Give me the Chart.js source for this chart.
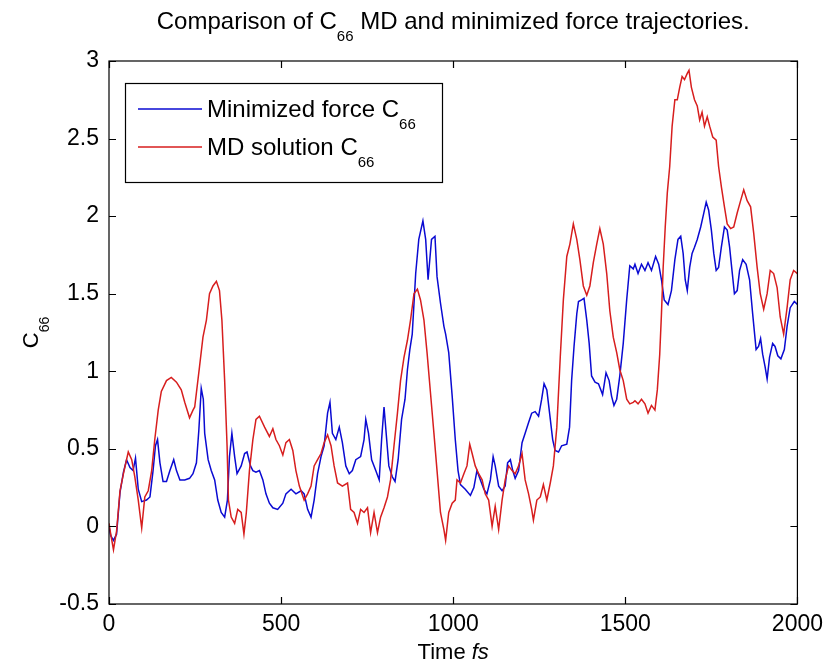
<!DOCTYPE html>
<html lang="en">
<head>
    <meta charset="UTF-8">
    <title>Comparison of C66 MD and minimized force trajectories</title>
    <style>
        body { margin: 0; background: #fff; }
        #wrap { width: 830px; height: 665px; }
    </style>
    <script src="https://cdn.jsdelivr.net/npm/chart.js"></script>
</head>
<body>
    <div id="wrap"><canvas id="chart" width="830" height="665"></canvas></div>

    <script>
        // Minimized force C66 (blue) - time in fs
        const minTime = [0, 5, 13, 22, 32, 42, 51, 61, 70, 77, 85, 95, 109, 119, 128, 135, 141, 148, 157, 167, 177, 188, 196, 206, 220, 234, 244, 254, 261, 268, 274, 278, 288, 297, 307, 316, 326, 336, 344, 350, 357, 365, 372, 384, 394, 401, 411, 418, 427, 437, 447, 456, 466, 476, 490, 505, 514, 529, 543, 558, 567, 577, 587, 596, 606, 616, 625, 635, 642, 649, 659, 669, 678, 688, 698, 707, 717, 731, 741, 746, 754, 763, 775, 785, 792, 799, 806, 813, 823, 831, 840, 850, 860, 867, 874, 881, 891, 900, 912, 920, 927, 937, 947, 953, 963, 973, 978, 987, 997, 1006, 1014, 1021, 1035, 1050, 1060, 1069, 1079, 1089, 1098, 1108, 1116, 1122, 1132, 1142, 1151, 1158, 1166, 1173, 1180, 1190, 1200, 1209, 1219, 1228, 1238, 1248, 1257, 1264, 1272, 1280, 1289, 1296, 1306, 1315, 1330, 1338, 1344, 1351, 1359, 1364, 1373, 1380, 1388, 1395, 1402, 1412, 1422, 1434, 1444, 1453, 1460, 1467, 1475, 1484, 1494, 1504, 1513, 1523, 1528, 1537, 1547, 1557, 1566, 1576, 1588, 1597, 1605, 1613, 1624, 1634, 1644, 1653, 1661, 1668, 1674, 1680, 1687, 1694, 1701, 1709, 1719, 1728, 1735, 1742, 1750, 1757, 1764, 1771, 1779, 1788, 1796, 1803, 1809, 1817, 1825, 1832, 1841, 1851, 1861, 1870, 1880, 1887, 1893, 1899, 1906, 1912, 1919, 1928, 1935, 1943, 1952, 1962, 1970, 1979, 1991, 2000];
        const minValues = [0.0, -0.06, -0.09, -0.05, 0.22, 0.35, 0.43, 0.38, 0.36, 0.44, 0.24, 0.16, 0.17, 0.19, 0.36, 0.52, 0.56, 0.41, 0.29, 0.29, 0.36, 0.43, 0.36, 0.30, 0.30, 0.31, 0.34, 0.41, 0.62, 0.89, 0.82, 0.60, 0.43, 0.36, 0.30, 0.17, 0.09, 0.06, 0.17, 0.45, 0.60, 0.45, 0.34, 0.39, 0.47, 0.48, 0.39, 0.36, 0.35, 0.36, 0.30, 0.21, 0.15, 0.12, 0.11, 0.15, 0.21, 0.24, 0.21, 0.23, 0.21, 0.11, 0.06, 0.17, 0.34, 0.45, 0.52, 0.73, 0.80, 0.60, 0.56, 0.64, 0.54, 0.39, 0.34, 0.36, 0.43, 0.45, 0.56, 0.69, 0.60, 0.43, 0.36, 0.30, 0.56, 0.77, 0.58, 0.39, 0.32, 0.29, 0.43, 0.69, 0.82, 1.01, 1.14, 1.24, 1.63, 1.85, 1.97, 1.85, 1.59, 1.85, 1.87, 1.61, 1.44, 1.29, 1.24, 1.12, 0.84, 0.56, 0.36, 0.27, 0.24, 0.20, 0.25, 0.36, 0.30, 0.24, 0.21, 0.30, 0.45, 0.39, 0.26, 0.23, 0.26, 0.41, 0.43, 0.36, 0.31, 0.36, 0.54, 0.60, 0.67, 0.73, 0.74, 0.71, 0.82, 0.92, 0.88, 0.73, 0.56, 0.49, 0.48, 0.52, 0.53, 0.64, 0.94, 1.16, 1.37, 1.45, 1.46, 1.47, 1.33, 1.18, 0.97, 0.93, 0.92, 0.85, 0.99, 0.94, 0.84, 0.78, 0.82, 0.97, 1.18, 1.46, 1.68, 1.66, 1.69, 1.63, 1.69, 1.65, 1.70, 1.65, 1.74, 1.69, 1.59, 1.46, 1.43, 1.52, 1.72, 1.85, 1.87, 1.76, 1.59, 1.52, 1.67, 1.76, 1.80, 1.85, 1.93, 2.02, 2.09, 2.04, 1.91, 1.76, 1.65, 1.67, 1.80, 1.93, 1.91, 1.80, 1.67, 1.50, 1.52, 1.65, 1.72, 1.69, 1.59, 1.37, 1.14, 1.16, 1.21, 1.11, 1.03, 0.95, 1.09, 1.18, 1.16, 1.10, 1.08, 1.14, 1.29, 1.41, 1.45, 1.43];

        // MD solution C66 (red)
        const mdTime = [0, 5, 13, 22, 32, 42, 56, 66, 75, 85, 95, 104, 114, 124, 133, 143, 152, 167, 181, 196, 210, 220, 234, 244, 249, 263, 273, 283, 292, 302, 312, 321, 328, 336, 343, 347, 355, 365, 374, 384, 392, 399, 408, 418, 427, 437, 452, 466, 476, 485, 495, 505, 514, 524, 534, 543, 553, 567, 577, 587, 596, 606, 616, 625, 635, 645, 654, 664, 678, 693, 702, 712, 722, 731, 741, 751, 760, 770, 780, 789, 799, 809, 818, 828, 838, 847, 857, 867, 876, 886, 896, 905, 915, 924, 934, 944, 953, 963, 973, 978, 987, 997, 1006, 1011, 1021, 1031, 1040, 1048, 1055, 1064, 1074, 1084, 1093, 1103, 1113, 1122, 1132, 1142, 1151, 1161, 1171, 1180, 1190, 1200, 1209, 1219, 1228, 1233, 1243, 1253, 1262, 1272, 1282, 1291, 1301, 1311, 1320, 1330, 1339, 1349, 1359, 1368, 1378, 1388, 1397, 1407, 1417, 1426, 1436, 1446, 1455, 1465, 1475, 1484, 1494, 1504, 1513, 1523, 1528, 1537, 1547, 1557, 1566, 1576, 1586, 1593, 1600, 1605, 1610, 1616, 1622, 1629, 1636, 1644, 1651, 1658, 1665, 1672, 1680, 1685, 1692, 1701, 1709, 1716, 1723, 1730, 1738, 1745, 1754, 1764, 1771, 1779, 1788, 1796, 1806, 1815, 1825, 1835, 1844, 1854, 1864, 1873, 1883, 1892, 1902, 1912, 1921, 1931, 1941, 1950, 1960, 1970, 1979, 1989, 2000];
        const mdValues = [0.02, -0.05, -0.15, -0.03, 0.23, 0.34, 0.48, 0.43, 0.32, 0.17, -0.01, 0.19, 0.23, 0.36, 0.56, 0.75, 0.87, 0.94, 0.96, 0.93, 0.88, 0.80, 0.70, 0.75, 0.77, 1.03, 1.22, 1.33, 1.50, 1.55, 1.58, 1.52, 1.33, 0.94, 0.52, 0.17, 0.06, 0.02, 0.11, 0.09, -0.05, 0.09, 0.36, 0.56, 0.69, 0.71, 0.64, 0.58, 0.63, 0.56, 0.52, 0.46, 0.54, 0.56, 0.49, 0.36, 0.26, 0.17, 0.21, 0.26, 0.39, 0.43, 0.47, 0.54, 0.59, 0.52, 0.39, 0.28, 0.26, 0.28, 0.11, 0.09, 0.02, 0.11, 0.09, 0.12, -0.04, 0.09, -0.04, 0.06, 0.12, 0.19, 0.30, 0.52, 0.73, 0.94, 1.09, 1.20, 1.33, 1.50, 1.53, 1.46, 1.33, 1.12, 0.86, 0.60, 0.36, 0.09, -0.02, -0.09, 0.09, 0.15, 0.17, 0.30, 0.28, 0.34, 0.39, 0.53, 0.47, 0.39, 0.34, 0.30, 0.21, 0.17, 0.00, 0.13, -0.02, 0.17, 0.30, 0.39, 0.36, 0.34, 0.39, 0.47, 0.30, 0.21, 0.11, 0.04, 0.17, 0.19, 0.27, 0.17, 0.28, 0.39, 0.64, 1.09, 1.46, 1.74, 1.82, 1.95, 1.85, 1.72, 1.55, 1.49, 1.55, 1.70, 1.82, 1.92, 1.82, 1.63, 1.39, 1.22, 1.12, 1.01, 0.94, 0.82, 0.79, 0.80, 0.81, 0.79, 0.82, 0.79, 0.73, 0.78, 0.75, 0.88, 1.11, 1.37, 1.67, 1.93, 2.15, 2.32, 2.58, 2.75, 2.75, 2.83, 2.90, 2.88, 2.92, 2.94, 2.83, 2.75, 2.71, 2.62, 2.67, 2.58, 2.64, 2.58, 2.51, 2.49, 2.32, 2.19, 2.06, 1.95, 1.92, 1.93, 2.02, 2.10, 2.17, 2.10, 2.06, 1.89, 1.67, 1.50, 1.40, 1.50, 1.65, 1.63, 1.54, 1.35, 1.24, 1.41, 1.59, 1.65, 1.63];

        const xTicks = [0, 500, 1000, 1500, 2000];
        const yTicks = [-0.5, 0, 0.5, 1, 1.5, 2, 2.5, 3];

        const seriesNames = ['Minimized force C', 'MD solution C'];
        const blue = 'rgb(10, 10, 210)';
        const red = 'rgb(215, 30, 30)';
        const fontFamily = '"Liberation Sans", Arial, Helvetica, sans-serif';

        function toPoints(times, values) {
            return times.map((t, i) => ({ x: t, y: values[i] }));
        }

        // draws text pieces in a row; pieces may be subscripts or italic
        function drawRich(ctx, parts, x, y, size, align) {
            const fontOf = p => (p.italic ? 'italic ' : '') + (p.sub ? Math.round(size * 0.62) : size) + 'px ' + fontFamily;
            const widths = parts.map(p => {
                ctx.font = fontOf(p);
                return ctx.measureText(p.t).width;
            });
            const total = widths.reduce((a, b) => a + b, 0);
            let cx = align === 'center' ? x - total / 2 : x;
            parts.forEach((p, i) => {
                ctx.font = fontOf(p);
                ctx.fillText(p.t, cx, p.sub ? y + size * 0.5 : y);
                cx += widths[i];
            });
        }

        const decorations = {
            id: 'decorations',
            afterDraw(chart) {
                const ctx = chart.ctx;
                const area = chart.chartArea;
                const xs = chart.scales.x;
                const ys = chart.scales.y;
                ctx.save();
                ctx.strokeStyle = '#000';
                ctx.lineWidth = 1.2;
                ctx.strokeRect(area.left, area.top, area.right - area.left, area.bottom - area.top);

                // inward ticks on all four sides
                ctx.beginPath();
                xTicks.forEach(v => {
                    const px = Math.round(xs.getPixelForValue(v)) + 0.5;
                    ctx.moveTo(px, area.bottom); ctx.lineTo(px, area.bottom - 7);
                    ctx.moveTo(px, area.top); ctx.lineTo(px, area.top + 7);
                });
                yTicks.forEach(v => {
                    const py = Math.round(ys.getPixelForValue(v)) + 0.5;
                    ctx.moveTo(area.left, py); ctx.lineTo(area.left + 7, py);
                    ctx.moveTo(area.right, py); ctx.lineTo(area.right - 7, py);
                });
                ctx.stroke();

                ctx.fillStyle = '#000';
                ctx.textBaseline = 'alphabetic';

                // title
                drawRich(ctx, [
                    { t: 'Comparison of C' }, { t: '66', sub: true },
                    { t: ' MD and minimized force trajectories.' }
                ], (area.left + area.right) / 2, 29, 24, 'center');

                // x axis title
                drawRich(ctx, [{ t: 'Time ' }, { t: 'fs', italic: true }],
                    (area.left + area.right) / 2, 659, 22, 'center');

                // y axis title
                ctx.save();
                ctx.translate(38, (area.top + area.bottom) / 2);
                ctx.rotate(-Math.PI / 2);
                drawRich(ctx, [{ t: 'C' }, { t: '66', sub: true }], 0, 0, 22, 'center');
                ctx.restore();

                // legend box
                const lx = 125, ly = 83, lw = 317, lh = 99;
                ctx.fillStyle = '#fff';
                ctx.fillRect(lx, ly, lw, lh);
                ctx.strokeStyle = '#000';
                ctx.lineWidth = 1.2;
                ctx.strokeRect(lx + 0.5, ly + 0.5, lw, lh);
                const rows = [{ y: 109, c: blue }, { y: 147, c: red }];
                rows.forEach((r, i) => {
                    ctx.strokeStyle = r.c;
                    ctx.lineWidth = 1.5;
                    ctx.beginPath();
                    ctx.moveTo(138, r.y); ctx.lineTo(202, r.y);
                    ctx.stroke();
                    ctx.fillStyle = '#000';
                    drawRich(ctx, [{ t: seriesNames[i] }, { t: '66', sub: true }], 207, r.y + 8, 24, 'left');
                });
                ctx.restore();
            }
        };

        new Chart(document.getElementById('chart'), {
            type: 'line',
            data: {
                datasets: [
                    {
                        label: 'MD solution C66',
                        data: toPoints(mdTime, mdValues),
                        borderColor: red,
                        borderWidth: 1.5,
                        pointRadius: 0,
                        tension: 0,
                        fill: false
                    },
                    {
                        label: 'Minimized force C66',
                        data: toPoints(minTime, minValues),
                        borderColor: blue,
                        borderWidth: 1.5,
                        pointRadius: 0,
                        tension: 0,
                        fill: false
                    }
                ]
            },
            options: {
                responsive: false,
                animation: false,
                devicePixelRatio: 1,
                layout: { padding: { top: 61, right: 30, left: 0, bottom: 0 } },
                plugins: {
                    legend: { display: false },
                    title: { display: false },
                    tooltip: { enabled: false }
                },
                scales: {
                    x: {
                        type: 'linear',
                        min: 0,
                        max: 2000,
                        afterBuildTicks: s => { s.ticks = xTicks.map(v => ({ value: v })); },
                        grid: { display: false, drawTicks: false },
                        border: { display: false },
                        ticks: {
                            color: '#000', padding: 7, maxRotation: 0,
                            font: { family: fontFamily, size: 23 },
                            callback: v => String(v)
                        },
                        afterFit: s => { s.height = 61; }
                    },
                    y: {
                        min: -0.5,
                        max: 3,
                        afterBuildTicks: s => { s.ticks = yTicks.map(v => ({ value: v })); },
                        grid: { display: false, drawTicks: false },
                        border: { display: false },
                        ticks: {
                            color: '#000', padding: 10,
                            font: { family: fontFamily, size: 23 },
                            callback: v => String(v)
                        },
                        afterFit: s => { s.width = 109; }
                    }
                }
            },
            plugins: [decorations]
        });
    </script>
</body>
</html>
